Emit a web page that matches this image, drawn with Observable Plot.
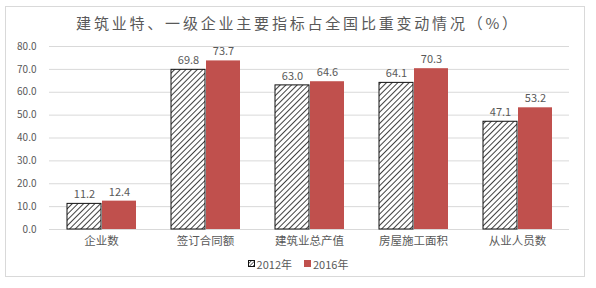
<!DOCTYPE html>
<html>
<head>
<meta charset="utf-8">
<script src="https://cdn.jsdelivr.net/npm/d3@7"></script>
<script src="https://cdn.jsdelivr.net/npm/@observablehq/plot@0.6"></script>
<style>
  body { margin: 0; background: #fff; font-family: "Noto Sans CJK SC", sans-serif; }
  #wrap { position: relative; width: 596px; height: 288px; }
  #frame { position: absolute; left: 5px; top: 6px; width: 580px; height: 271px; border: 1px solid #d9d9d9; box-sizing: border-box; }
  #title { position: absolute; left: 0; width: 596px; top: 12px; text-align: center; font-size: 15px; color: #595959; letter-spacing: 2.8px; line-height: 22px; }
  #chart { position: absolute; left: 0; top: 30px; }
  #legend { position: absolute; left: 0; width: 596px; top: 254px; text-align: center; font-size: 11px; color: #595959; }
  #legend span.item { display: inline-flex; align-items: center; margin: 0 6px; }
  #legend svg { margin-right: 2px; }
</style>
</head>
<body>
<div id="wrap">
  <div id="frame"></div>
  <div id="title">建筑业特、一级企业主要指标占全国比重变动情况（%）</div>
  <div id="chart"></div>
  <div id="legend"></div>
</div>
<script>
const categories = ["企业数", "签订合同额", "建筑业总产值", "房屋施工面积", "从业人员数"];
const years = ["2012年", "2016年"];
const values2012 = [11.2, 69.8, 63.0, 64.1, 47.1];
const values2016 = [12.4, 73.7, 64.6, 70.3, 53.2];
const yTicks = [0, 10, 20, 30, 40, 50, 60, 70, 80];

const data = [];
categories.forEach((c, i) => {
  data.push({category: c, year: years[0], value: values2012[i]});
  data.push({category: c, year: years[1], value: values2016[i]});
});

const red = "#c0504d";
const gray = "#595959";

const plot = Plot.plot({
  width: 596,
  height: 230,
  marginLeft: 47,
  marginRight: 25,
  marginTop: 16,
  marginBottom: 31,
  style: {fontFamily: "Noto Sans CJK SC, sans-serif", fontSize: "10px", color: gray, background: "transparent"},
  fx: {domain: categories, padding: 0, label: null},
  x: {domain: years, axis: null, paddingInner: 0.03, paddingOuter: 0.49},
  y: {domain: [0, 80], label: null},
  color: {domain: years, range: ["url(#hatch)", red]},
  marks: [
    Plot.gridY(yTicks, {stroke: "#d9d9d9", strokeOpacity: 1}),
    Plot.axisY(yTicks, {tickSize: 0, tickPadding: 13, tickFormat: d => d.toFixed(1), fill: gray, fontSize: 10}),
    Plot.axisFx({anchor: "bottom", tickSize: 0, tickPadding: 7.5, fontSize: 11.5, fill: gray, label: null}),
    Plot.barY(data, {fx: "category", x: "year", y: "value", fill: "year",
      stroke: d => d.year === years[0] ? "#111" : "none", strokeWidth: 1}),
    Plot.text(data, {fx: "category", x: "year", y: "value", text: d => d.value.toFixed(1),
      dy: -9, fill: gray, fontSize: 11})
  ]
});

// hatch pattern
const ns = "http://www.w3.org/2000/svg";
const defs = document.createElementNS(ns, "defs");
defs.innerHTML = `<pattern id="hatch" patternUnits="userSpaceOnUse" width="4" height="4" patternTransform="rotate(45)">
  <rect width="4" height="4" fill="#fff"/>
  <line x1="0" y1="0" x2="0" y2="4" stroke="#111" stroke-width="1.6"/>
</pattern>`;
plot.insertBefore(defs, plot.firstChild);
document.getElementById("chart").appendChild(plot);

const legend = document.getElementById("legend");
years.forEach((y, i) => {
  const item = document.createElement("span");
  item.className = "item";
  item.innerHTML = i === 0
    ? `<svg width="7" height="7"><defs><pattern id="hl" patternUnits="userSpaceOnUse" width="2.5" height="2.5" patternTransform="rotate(45)"><rect width="2.5" height="2.5" fill="#fff"/><line x1="0" y1="0" x2="0" y2="2.5" stroke="#111" stroke-width="1.2"/></pattern></defs><rect x="0.5" y="0.5" width="6" height="6" fill="url(#hl)" stroke="#111"/></svg>${y}`
    : `<svg width="7" height="7"><rect x="0" y="0" width="7" height="7" fill="${red}"/></svg>${y}`;
  legend.appendChild(item);
});
</script>
</body>
</html>
